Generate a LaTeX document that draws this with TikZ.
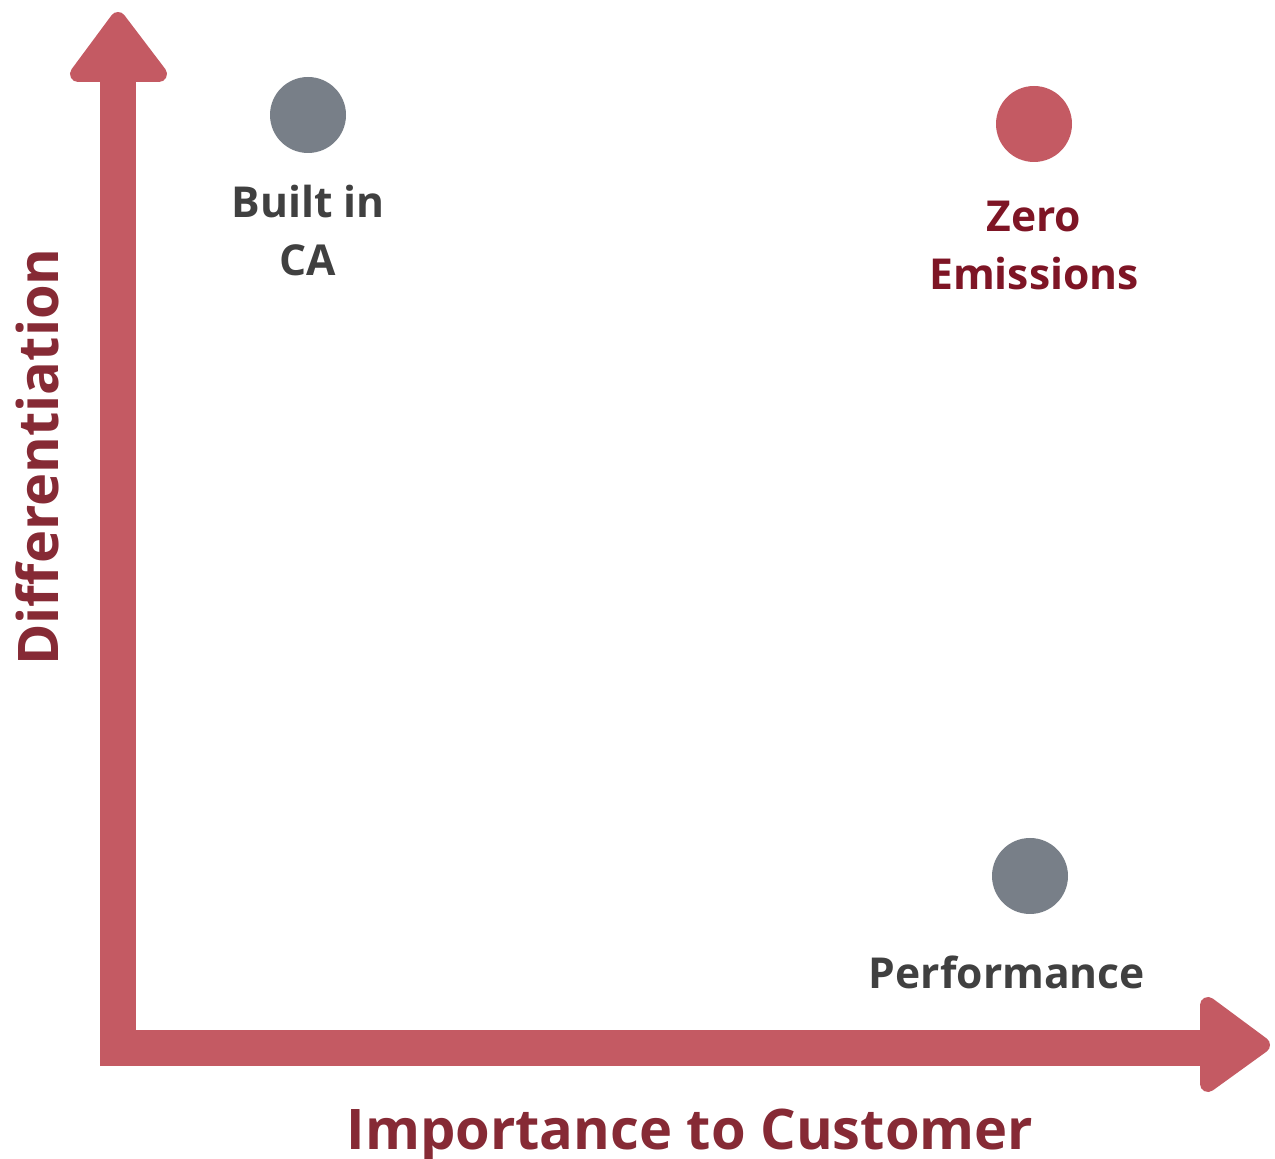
\documentclass[tikz,border=0pt]{standalone}
\usepackage{fontspec}
\setmainfont{Open Sans}
\usepackage{xcolor}
\usetikzlibrary{positioning}

\definecolor{assirosso}{HTML}{C45A63}
\definecolor{titolorosso}{HTML}{862A35}
\definecolor{testorosso}{HTML}{7E1525}
\definecolor{puntogrigio}{HTML}{787F88}
\definecolor{testogrigio}{HTML}{404040}

\begin{document}
\begin{tikzpicture}[x=0.5pt, y=-0.5pt, node distance=18pt]
    % Stili
    \tikzstyle{punto} = [circle, minimum size=38pt, inner sep=0pt]
    \tikzstyle{etichetta} = [align=center, inner sep=0pt, font=\fontsize{21.3}{29}\selectfont\bfseries]
    \tikzstyle{titolo} = [inner sep=0pt, text=titolorosso, font=\fontsize{28}{32}\selectfont\bfseries]
    \tikzstyle{asse} = [draw=assirosso, line width=18pt, line cap=square]
    \tikzstyle{punta} = [fill=assirosso, draw=assirosso, line width=8pt, line join=round]

    \useasboundingbox (0,0) rectangle (1275,1159);

    % Assi
    \coordinate (origine) at (118,1048);
    \coordinate (cimay) at (118,82);
    \coordinate (cimax) at (1200,1048);
    \draw [asse] (cimay) -- (origine) -- (cimax);
    \filldraw [punta] (cimay) ++(-40,-8) -- ++(81,0) -- (118,20) -- cycle;
    \filldraw [punta] (cimax) ++(8,-43) -- ++(0,79) -- (1262,1045) -- cycle;

    % Nodi
    \node [punto, fill=puntogrigio] (builtin) at (308,115) {};
    \node [punto, fill=assirosso] (zero) at (1034,124) {};
    \node [punto, fill=puntogrigio] (perf) at (1030,876) {};

    \node [etichetta, text=testogrigio, below=15.5pt of builtin] (lbuiltin) {Built in\\CA};
    \node [etichetta, text=testorosso, below=19pt of zero] (lzero) {Zero\\Emissions};
    \node [etichetta, text=testogrigio, below=20.5pt of perf, xshift=-11.5pt] (lperf) {Performance};

    % Titoli degli assi
    \node [titolo, anchor=base] (tx) at (690,1149) {Importance to Customer};
    \node [titolo, anchor=base, rotate=90] (ty) at (58,457) {Differentiation};

\end{tikzpicture}
\end{document}
